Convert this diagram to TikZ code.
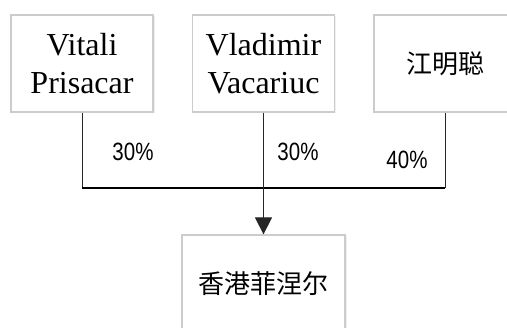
\documentclass[tikz,border=0pt]{standalone}
\usepackage{fontspec}
\setmainfont{Liberation Serif}
\newfontfamily\cjkfont{Noto Sans CJK SC}
\newfontfamily\pctfont{Liberation Sans}
\usetikzlibrary{arrows.meta,shadows}
\definecolor{boxline}{HTML}{CCCCCC}
\tikzset{
  holder/.style={draw=boxline, line width=1.2pt, fill=white, minimum width=142pt, minimum height=97pt,
    inner sep=0pt, align=center, drop shadow={opacity=0.12, shadow xshift=1.5pt, shadow yshift=-1.5pt},
    font=\fontsize{32}{38}\selectfont},
  cjkbox/.style={holder, font=\cjkfont\fontsize{26}{30}\selectfont},
  pct/.style={font=\pctfont\fontsize{25}{25}\selectfont, inner sep=0pt},
  link/.style={line width=1pt, draw=black!85},
  bar/.style={line width=2.2pt, draw=black},
}
\begin{document}
\begin{tikzpicture}[x=1pt,y=1pt]
\useasboundingbox (0,0) rectangle (507,328);
\node[holder] (a) at (82,264.5) {Vitali\\Prisacar};
\node[holder] (b) at (263.5,264.5) {Vladimir\\Vacariuc};
\node[cjkbox] (c) at (445,264.5) {江明聪};
\node[cjkbox, minimum width=163pt] (d) at (263.5,44.5) {香港菲涅尔};
\coordinate (jl) at (82,140);
\coordinate (jr) at (445,140);
\draw[link] (a.south) -- (a.south |- jl);
\draw[link] (c.south) -- (c.south |- jr);
\draw[bar] (jl) -- (jr);
\draw[link, -{Triangle[width=17pt,length=17pt]}] (b.south) -- (d.north);
\node[pct] (p1) at (133,176) {\scalebox{0.82}[1]{30\%}};
\node[pct] (p2) at (298,176) {\scalebox{0.82}[1]{30\%}};
\node[pct] (p3) at (407,168) {\scalebox{0.82}[1]{40\%}};
\end{tikzpicture}
\end{document}
